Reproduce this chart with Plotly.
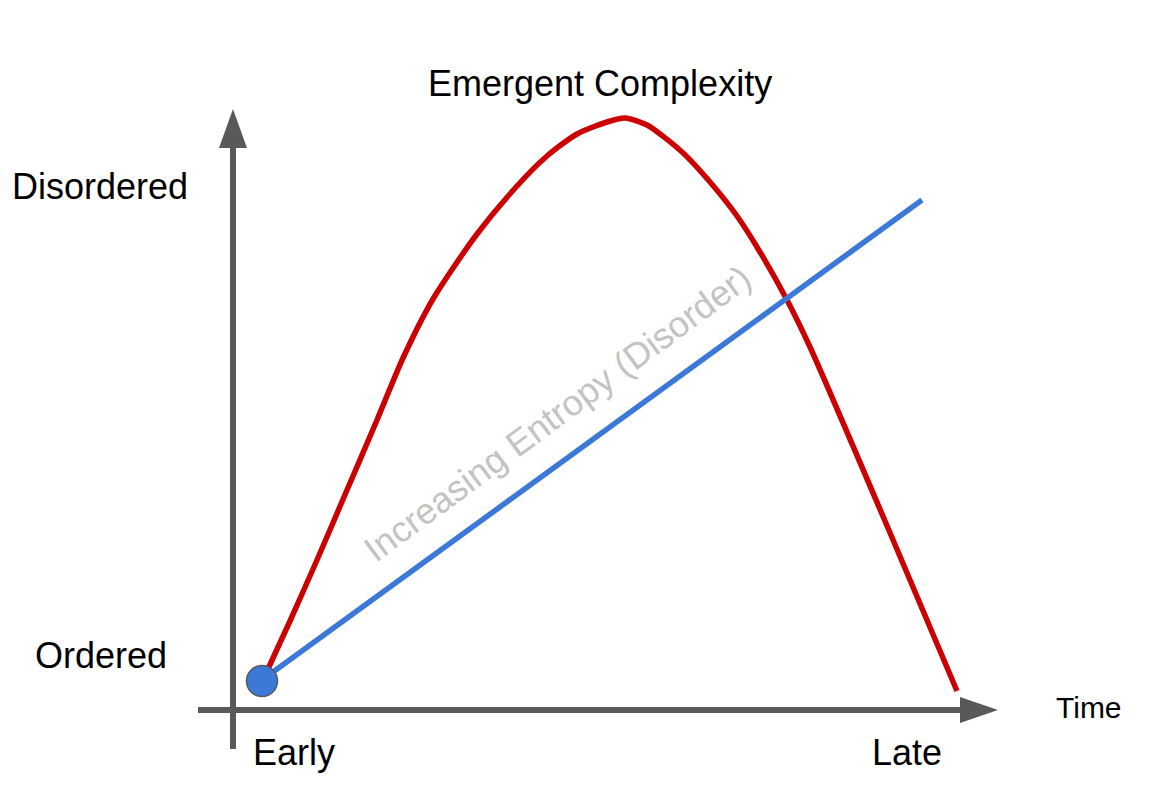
import plotly.graph_objects as go

# ---- Data (time units to the right of the axis origin, level units above it) ----
complexity_time = [29, 57, 84, 114, 144, 170, 200, 244, 284, 314, 344, 374, 392,
                   414, 449, 477, 504, 527, 554, 577, 652, 724]
complexity_level = [28, 89, 150, 220, 290, 352, 411, 476, 524, 554, 576, 588, 592,
                    585, 558, 528, 494, 458, 410, 363, 189, 19]

entropy_time = [29, 689]
entropy_level = [30, 510]

start_time = [29]
start_level = [29]

# ---- Axis geometry ----
v_axis_bottom, v_axis_base, v_axis_tip, v_head_half = -39, 563, 601, 14
h_axis_left, h_axis_base, h_axis_tip, h_head_half = -35, 728, 765, 13

AXIS = "#595959"
RED = "#cc0000"
BLUE = "#3c78d8"
FONT = "Arial, Liberation Sans, sans-serif"

fig = go.Figure()

# vertical axis line + head
fig.add_trace(go.Scatter(x=[0, 0], y=[v_axis_bottom, v_axis_base], mode="lines",
                         line=dict(color=AXIS, width=6), hoverinfo="skip"))
fig.add_trace(go.Scatter(x=[-v_head_half, v_head_half, 0, -v_head_half],
                         y=[v_axis_base - 1, v_axis_base - 1, v_axis_tip, v_axis_base - 1],
                         mode="lines", fill="toself", fillcolor=AXIS,
                         line=dict(color=AXIS, width=0), hoverinfo="skip"))
# horizontal axis line + head
fig.add_trace(go.Scatter(x=[h_axis_left, h_axis_base], y=[0, 0], mode="lines",
                         line=dict(color=AXIS, width=6), hoverinfo="skip"))
fig.add_trace(go.Scatter(x=[h_axis_base - 1, h_axis_base - 1, h_axis_tip, h_axis_base - 1],
                         y=[-h_head_half, h_head_half, 0, -h_head_half],
                         mode="lines", fill="toself", fillcolor=AXIS,
                         line=dict(color=AXIS, width=0), hoverinfo="skip"))

# emergent complexity curve
fig.add_trace(go.Scatter(x=complexity_time, y=complexity_level, mode="lines",
                         line=dict(color=RED, width=5.5, shape="spline", smoothing=0.7),
                         hoverinfo="skip"))
# entropy line
fig.add_trace(go.Scatter(x=entropy_time, y=entropy_level, mode="lines",
                         line=dict(color=BLUE, width=5.5), hoverinfo="skip"))
# start dot
fig.add_trace(go.Scatter(x=start_time, y=start_level, mode="markers",
                         marker=dict(size=31, color=BLUE, line=dict(color=AXIS, width=1.5)),
                         hoverinfo="skip"))

labels = [
    ("Emergent Complexity", 367, 627, 36),
    ("Disordered", -133, 524, 36),
    ("Ordered", -132, 55, 36),
    ("Early", 61, -42, 36),
    ("Late", 674, -42, 36),
    ("Time", 856, 3, 30),
]
for text, x, y, size in labels:
    fig.add_annotation(x=x, y=y, text=text, showarrow=False, xanchor="center",
                       yanchor="middle", font=dict(family=FONT, size=size, color="#000000"))

fig.add_annotation(x=324, y=297, text="Increasing Entropy (Disorder)", showarrow=False,
                   textangle=-36.5, xanchor="center", yanchor="middle",
                   font=dict(family=FONT, size=36, color="#c3c3c3"))

# The page body has an 8px default margin; size the figure so 1 unit = 1 px on the page.
fig.update_layout(
    width=1152, height=798, autosize=False,
    margin=dict(l=0, r=0, t=0, b=0),
    paper_bgcolor="white", plot_bgcolor="white",
    showlegend=False,
    xaxis=dict(range=[-225, 927], visible=False, fixedrange=True),
    yaxis=dict(range=[-96, 702], visible=False, fixedrange=True),
)

fig.write_html("out.html")
